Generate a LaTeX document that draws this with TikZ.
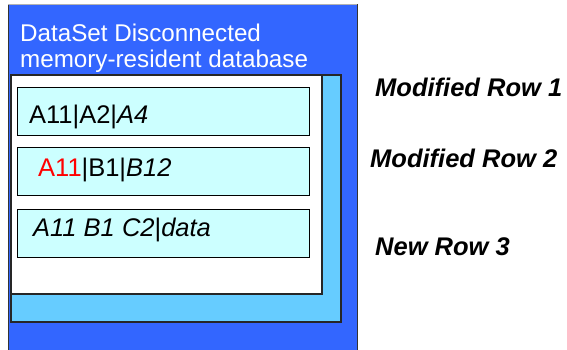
\documentclass[tikz,border=0pt]{standalone}
\usepackage{fontspec}
\setmainfont{Liberation Sans}
\definecolor{dsblue}{HTML}{3366FF}
\definecolor{tblblue}{HTML}{66CCFF}
\definecolor{rowcyan}{HTML}{CCFFFF}
\begin{document}
\begin{tikzpicture}[x=1pt,y=-1pt,
  rowbox/.style={draw=black,line width=1.2pt,fill=rowcyan,anchor=north west,minimum width=292pt,minimum height=48pt,inner sep=0pt},
  rowtext/.style={anchor=base west,inner sep=0pt,font=\fontsize{25.5}{28}\selectfont},
  titletext/.style={anchor=base west,inner sep=0pt,text=white,font=\fontsize{24.2}{26}\selectfont},
  sidelabel/.style={anchor=base west,inner sep=0pt,font=\fontsize{25.5}{28}\selectfont\bfseries\itshape}]
\useasboundingbox (0,0) rectangle (567,350);
% outer DataSet box
\draw[draw=black!80,line width=1pt,fill=dsblue] (8,5) rectangle (357,352);
\draw[gray!60,line width=1pt] (8,4.5) -- (357,4.5);
% table shadow and white area
\draw[draw=black!85,line width=1.2pt,fill=tblblue] (11,75) rectangle (341,322);
\draw[draw=black!85,line width=1.2pt,fill=white] (11,75) rectangle (322,294);
% rows
\node[rowbox] (r1) at (17,87) {};
\node[rowbox] (r2) at (17,147) {};
\node[rowbox] (r3) at (17,209) {};
% title
\node[titletext] (title) at (20,42) {DataSet Disconnected};
\node[titletext] (title2) at (20,68) {memory-resident database};
% row texts
\node[rowtext] (t1) at (29,124) {A11|A2|\textit{A4}};
\node[rowtext] (t2) at (38,176) {\textcolor{red}{A11}|B1|\textit{B12}};
\node[rowtext] (t3) at (33,236) {\textit{A11 B1 C2}|\textit{data}};
% side labels
\node[sidelabel] (l1) at (375,97) {Modified Row 1};
\node[sidelabel] (l2) at (370,167) {Modified Row 2};
\node[sidelabel] (l3) at (375,255) {New Row 3};
\end{tikzpicture}
\end{document}
